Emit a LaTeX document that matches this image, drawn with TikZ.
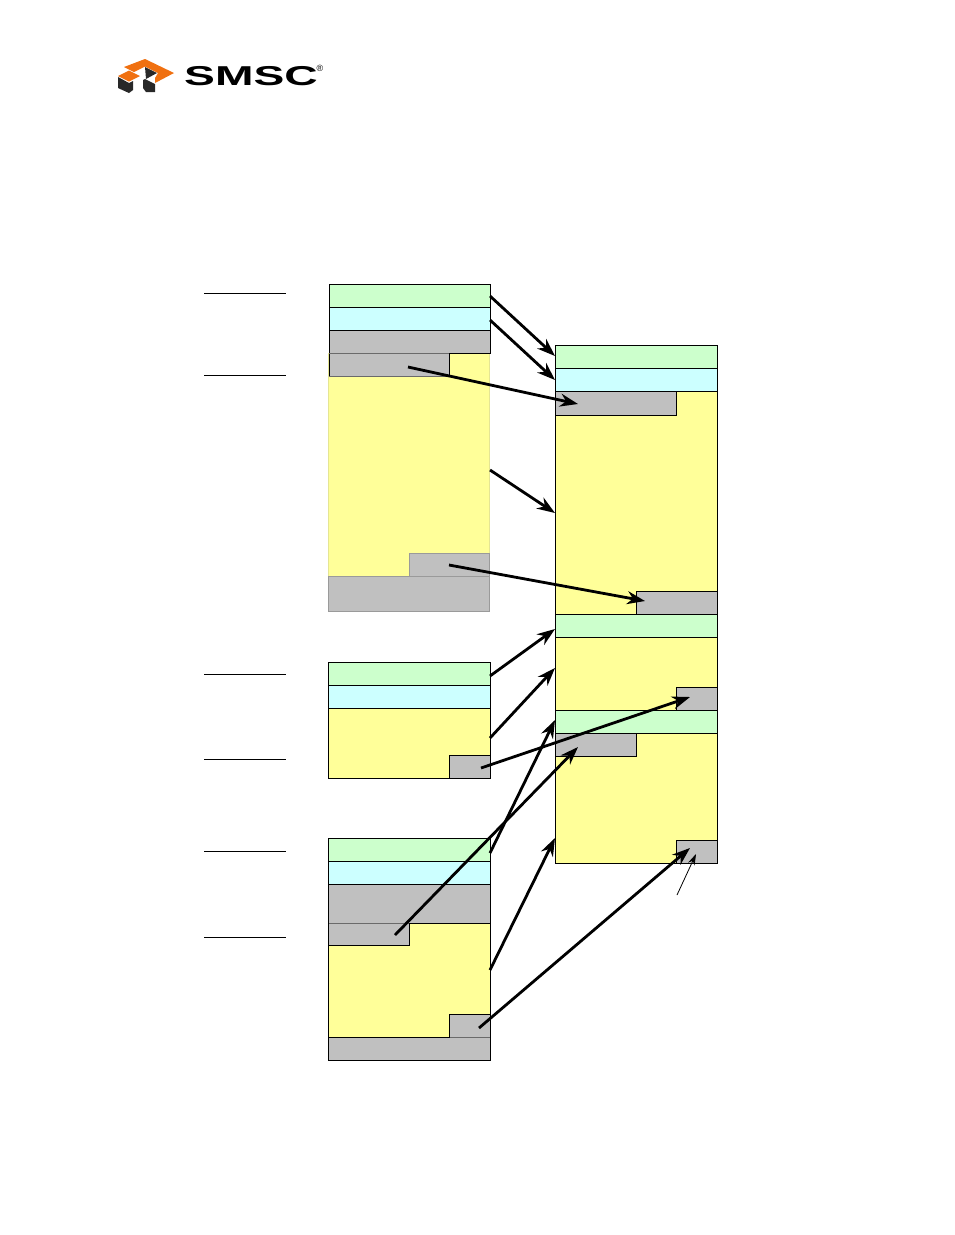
\documentclass[tikz,border=0pt]{standalone}
\usepackage{fontspec}
\setmainfont{Liberation Sans}
\usetikzlibrary{arrows.meta}
\definecolor{hdrgreen}{RGB}{204,255,204}
\definecolor{hdrcyan}{RGB}{204,255,255}
\definecolor{bodyyellow}{RGB}{255,255,153}
\definecolor{padgray}{RGB}{192,192,192}
\definecolor{logoorange}{RGB}{240,112,16}
\definecolor{logodark}{RGB}{40,40,40}
\tikzset{
	block/.style={draw=black, line width=1pt},
	fadeblock/.style={draw=#1, line width=1pt},
	seam/.style={draw=padgray!55!black, line width=.8pt},
	link/.style={-{Stealth[length=18pt,width=13pt]}, line width=2.8pt, black},
	thinlink/.style={-{Stealth[length=11pt,width=7pt]}, line width=.8pt, black},
	tick/.style={line width=.8pt, black},
}
\begin{document}
\begin{tikzpicture}[x=1pt, y=-1pt, line join=miter]
	\useasboundingbox[fill=white] (0,0) rectangle (954,1235);
	% logo
	\fill[logoorange] (124,67)--(145,59)--(174,73)--(155,83)--(155,78)--(158,73)--(145,66.5)--(134,72)--cycle;
	\fill[logoorange] (118,76)--(129,70.5)--(140,76)--(129,81.5)--cycle;
	\fill[logodark] (145,67)--(157,73)--(146,79)--cycle;
	\fill[logodark] (118,77)--(129,83)--(133,81)--(133,90)--(129,93)--(118,88)--cycle;
	\fill[logodark] (143,80)--(145,79)--(155,84)--(155,92)--(146,92)--(143,88)--cycle;
	\node[inner sep=0pt, anchor=west] (brand) at (184,76) {\scalebox{2.2}[1.3]{\fontsize{21}{21}\selectfont\bfseries SMSC}};
	\node[inner sep=0pt] (regmark) at (320,68.5) {\fontsize{9}{9}\selectfont ®};
	% first image
	\draw[fadeblock=bodyyellow!80!gray, fill=bodyyellow] (328.5,353) rectangle (489.5,576);
	\draw[fadeblock=padgray!80!black, fill=padgray] (328.5,576) rectangle (489.5,611);
	\draw[fadeblock=padgray!80!black, fill=padgray] (409,553) rectangle (489.5,576);
	\draw[block, fill=padgray] (329,353) rectangle (449,376);
	\foreach \a/\b/\c in {284/307/hdrgreen,307/330/hdrcyan,330/353/padgray}
		\draw[block, fill=\c] (329,\a) rectangle (490.5,\b);
	\draw[seam] (329,353) -- (449,353);
	\draw[seam] (329,376) -- (449,376);
	% second image
	\foreach \a/\b/\c in {662/685/hdrgreen,685/708/hdrcyan,708/778/bodyyellow}
		\draw[block, fill=\c] (328.5,\a) rectangle (490.5,\b);
	\draw[block, fill=padgray] (449,755) rectangle (490.5,778);
	% third image
	\foreach \a/\b/\c in {838.5/861/hdrgreen,861/884/hdrcyan,884/1060/padgray}
		\draw[block, fill=\c] (328.5,\a) rectangle (490.5,\b);
	\draw[block, fill=bodyyellow] (328.5,923) -- (490.5,923) -- (490.5,1037) -- (328.5,1037) -- cycle;
	\draw[block, fill=padgray] (328.5,923) rectangle (409.5,945);
	\draw[block, fill=padgray] (449.5,1014) rectangle (490.5,1037);
	\draw[seam] (329,923) -- (409,923);
	\draw[seam] (450,1037) -- (490,1037);
	% result image
	\foreach \a/\b/\c in {345/368/hdrgreen,368/391/hdrcyan,391/614/bodyyellow,614/637/hdrgreen,637/710/bodyyellow,710/733/hdrgreen,733/863/bodyyellow}
		\draw[block, fill=\c] (555.5,\a) rectangle (717.5,\b);
	\draw[block, fill=padgray] (555.5,391) rectangle (676.5,415);
	\draw[block, fill=padgray] (636.5,591) rectangle (717.5,614);
	\draw[block, fill=padgray] (676.5,687) rectangle (717.5,710);
	\draw[block, fill=padgray] (555.5,733) rectangle (636.5,756);
	\draw[block, fill=padgray] (676.5,840) rectangle (717.5,863);
	% label rules
	\foreach \y in {293.5,375,674,759,851,937}
		\draw[tick] (204,\y) -- (286,\y);
	% arrow ends
	\foreach \n/\x/\y in {a/490/296,b/555/356,c/490/320,d/555/380,e/408/367,f/578/404,g/490/470,h/555/513,i/449/565,j/645/601,k/490/676,l/555/629,m/490/738,n/555/668,o/481/768,p/690/697,q/490/853,r/555/720,s/395/935,t/578/747,u/490/970,v/555/838,w/479/1028,z/690/848}
		\coordinate (\n) at (\x,\y);
	\foreach \u/\v in {a/b,c/d,e/f,g/h,i/j,k/l,m/n,o/p,q/r,s/t,u/v,w/z}
		\draw[link] (\u) -- (\v);
	\coordinate (callout) at (677,895);
	\coordinate (corner) at (696,854);
	\draw[thinlink] (callout) -- (corner);
\end{tikzpicture}
\end{document}
